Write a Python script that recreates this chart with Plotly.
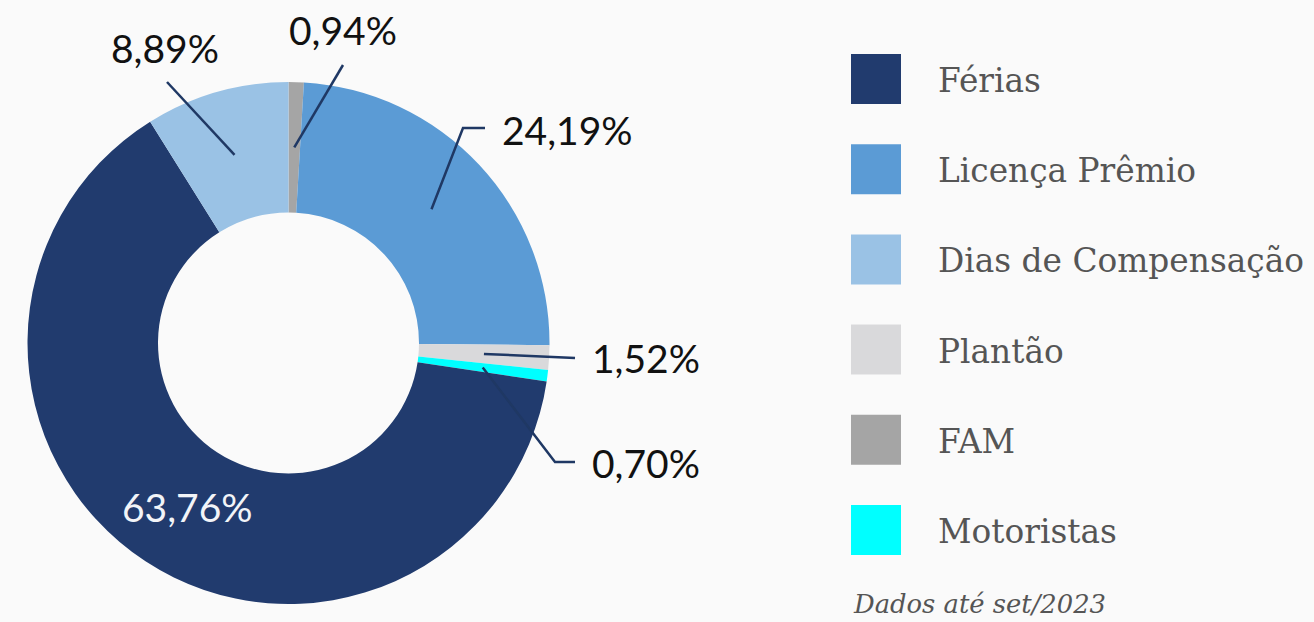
import math
import plotly.graph_objects as go

# ---- data (legend order) ----
categories = ["Férias", "Licença Prêmio", "Dias de Compensação", "Plantão", "FAM", "Motoristas"]
values = [63.76, 24.19, 8.89, 1.52, 0.94, 0.70]
value_labels = ["63,76%", "24,19%", "8,89%", "1,52%", "0,94%", "0,70%"]
colors = ["#213b6e", "#5b9bd5", "#9ac2e5", "#d9d9db", "#a5a5a5", "#00ffff"]
# order in which slices are drawn clockwise from 12 o'clock
slice_order = ["FAM", "Licença Prêmio", "Plantão", "Motoristas", "Férias", "Dias de Compensação"]
footnote = "Dados até set/2023"

W, H = 1314, 622
# pie domain in pixels
DX0, DX1, DY0, DY1 = 27, 550, 82, 604
HOLE = 0.5

idx = [categories.index(c) for c in slice_order]
s_labels = [categories[i] for i in idx]
s_values = [values[i] for i in idx]
s_colors = [colors[i] for i in idx]


def px(x):
    return x / W


def py(y):
    return 1 - y / H


fig = go.Figure()
fig.add_trace(go.Pie(
    labels=s_labels, values=s_values, sort=False, direction="clockwise", rotation=0,
    hole=HOLE, marker=dict(colors=s_colors, line=dict(width=0)),
    textinfo="none", hoverinfo="label+percent", showlegend=False,
    domain=dict(x=[px(DX0), px(DX1)], y=[py(DY1), py(DY0)]),
))

# geometry from the data
cx, cy = (DX0 + DX1) / 2, (DY0 + DY1) / 2
R = min(DX1 - DX0, DY1 - DY0) / 2
r_mid = R * (1 + HOLE) / 2
total = sum(s_values)
mid_angle = {}
cum = 0
for lab, v in zip(s_labels, s_values):
    mid_angle[lab] = (cum + v / 2) / total * 2 * math.pi
    cum += v


def on_ring(lab, r):
    a = mid_angle[lab]
    return cx + r * math.sin(a), cy - r * math.cos(a)


# label layout: text position (px), anchor, extra leader points (px)
label_layout = {
    "FAM": dict(text=(343, 30), anchor="center", pts=[(343, 65)]),
    "Dias de Compensação": dict(text=(165, 48), anchor="center", pts=[(167, 82)]),
    "Licença Prêmio": dict(text=(500, 130), anchor="left", pts=[(463, 128), (485, 128)]),
    "Plantão": dict(text=(590, 358), anchor="left", pts=[(575, 358)]),
    "Motoristas": dict(text=(590, 463), anchor="left", pts=[(555, 462), (575, 462)]),
}

LINE = "#1f3864"
label_font = dict(family="Lato, 'Open Sans', sans-serif", size=39, color="#111111")

for lab, cfg in label_layout.items():
    sx, sy = on_ring(lab, r_mid)
    pts = [(sx, sy)] + cfg["pts"]
    path = "M " + " L ".join(f"{px(x)},{py(y)}" for x, y in pts)
    fig.add_shape(type="path", path=path, xref="paper", yref="paper",
                  line=dict(color=LINE, width=2.5))
    tx, ty = cfg["text"]
    fig.add_annotation(x=px(tx), y=py(ty), xref="paper", yref="paper",
                       text=value_labels[categories.index(lab)], showarrow=False,
                       xanchor=cfg["anchor"], yanchor="middle", font=label_font)

# inside label for Férias
fig.add_annotation(x=px(187), y=py(507), xref="paper", yref="paper",
                   text=value_labels[categories.index("Férias")], showarrow=False,
                   xanchor="center", yanchor="middle",
                   font=dict(family="Lato, 'Open Sans', sans-serif", size=39, color="#f2f4f8"))

# custom legend
LX, LY0, STEP, SW = 851, 54, 90.2, 50
legend_font = dict(family="'DejaVu Serif', serif", size=32.8, color="#555555")
for i, (cat, col) in enumerate(zip(categories, colors)):
    y0 = LY0 + i * STEP
    fig.add_shape(type="rect", xref="paper", yref="paper",
                  x0=px(LX), x1=px(LX + SW), y0=py(y0 + SW), y1=py(y0),
                  fillcolor=col, line=dict(width=0))
    fig.add_annotation(x=px(936), y=py(y0 + SW / 2 + 2), xref="paper", yref="paper",
                       text=cat, showarrow=False, xanchor="left", yanchor="middle",
                       font=legend_font)

fig.add_annotation(x=px(851), y=py(604), xref="paper", yref="paper",
                   text=f"<i>{footnote}</i>", showarrow=False, xanchor="left", yanchor="middle",
                   font=dict(family="'DejaVu Serif', serif", size=25.8, color="#555555"))

fig.update_layout(width=W, height=H, margin=dict(l=0, r=0, t=0, b=0),
                  paper_bgcolor="#fafafa", plot_bgcolor="#fafafa", showlegend=False)

fig.write_html("out.html", config={"displayModeBar": False},
               post_script="document.body.style.margin='0';document.body.style.overflow='hidden';")
